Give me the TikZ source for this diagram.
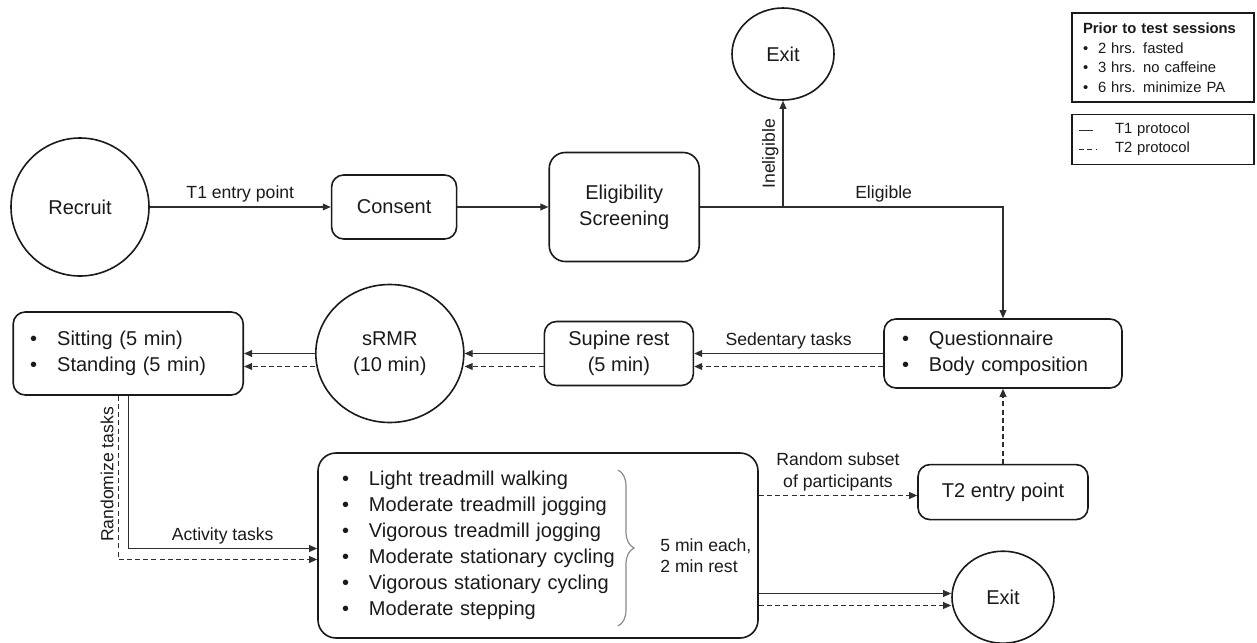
\documentclass[tikz,border=0pt]{standalone}
\usepackage{fontspec}
\setmainfont{Liberation Sans}
\usepackage{xcolor}
\definecolor{ink}{HTML}{1A1A1A}
\definecolor{wire}{HTML}{2E2E2E}
\definecolor{bracegrey}{HTML}{8A8A8A}
\usepackage{tikz}
\usetikzlibrary{positioning,arrows.meta,shapes.geometric,decorations.pathreplacing}
\newcommand{\mainsz}{\fontsize{10}{13}\selectfont}
\newcommand{\lblsz}{\fontsize{8.8}{11}\selectfont}
\newcommand{\keysz}{\fontsize{7.4}{9.75}\selectfont}
\newcommand{\bul}[1]{\makebox[13.5pt][l]{\textbullet}#1}
\newcommand{\keybul}[1]{\makebox[7.5pt][l]{\textbullet}#1}

\begin{document}
\begin{tikzpicture}[x=0.5pt,y=-0.5pt,
  box/.style={draw=ink,line width=0.8pt,rounded corners=6pt,align=center,font=\mainsz,text=ink,inner sep=0pt},
  lst/.style={box,align=left},
  rnd/.style={draw=ink,line width=0.8pt,ellipse,align=center,font=\mainsz,text=ink,inner sep=0pt},
  key/.style={draw=ink,line width=0.8pt,align=left,font=\keysz,text=ink,text width=80pt,inner xsep=5.5pt,inner ysep=0pt},
  lbl/.style={font=\lblsz,text=ink,inner sep=2pt},
  arr/.style={-{Triangle[length=4pt,width=3.4pt]},color=wire,line width=0.55pt},
  dsh/.style={dash pattern=on 2.5pt off 1.6pt},
  brc/.style={decorate,decoration={brace,amplitude=8pt},draw=bracegrey,line width=0.6pt}]
\fill[white] (0,0) rectangle (1257,642);
\useasboundingbox (0,0) rectangle (1257,642);
% top row
\node[rnd,minimum width=69pt,minimum height=69pt] (rec) at (80,207) {Recruit};
\node[box,minimum width=62.5pt,minimum height=32pt,right=90.5pt of rec] (cons) {Consent};
\node[box,minimum width=75pt,minimum height=54.5pt,rounded corners=8pt,right=45.5pt of cons] (elig) {Eligibility\\Screening};
\node[rnd,minimum width=51pt,minimum height=46pt] (exit1) at (783,54) {Exit};
% middle row
\node[lst,text width=101pt,inner xsep=9pt,minimum height=34.5pt] (quest) at (1003,353.5) {\bul{Questionnaire}\\\bul{Body composition}};
\node[box,minimum width=74.5pt,minimum height=32pt,left=94.5pt of quest] (sup) {Supine rest\\(5 min)};
\node[rnd,minimum width=74pt,minimum height=69pt,left=39.5pt of sup] (srmr) {sRMR\\(10 min)};
\node[lst,text width=98pt,inner xsep=8.5pt,minimum height=41.5pt,left=35.5pt of srmr] (sit) {\bul{Sitting (5 min)}\\\bul{Standing (5 min)}};
% bottom row
\node[lst,text width=196pt,inner xsep=12pt,minimum height=92.5pt,rounded corners=9pt] (act) at (538,545.5) {\bul{Light treadmill walking}\\\bul{Moderate treadmill jogging}\\\bul{Vigorous treadmill jogging}\\\bul{Moderate stationary cycling}\\\bul{Vigorous stationary cycling}\\\bul{Moderate stepping}};
\node[box,minimum width=85pt,minimum height=27.5pt,below=37.5pt of quest] (t2) {T2 entry point};
\node[rnd,minimum width=51pt,minimum height=46pt,below=15pt of t2] (exit2) {Exit};
\node[lbl,anchor=west,align=left,font=\fontsize{8.8}{10.5}\selectfont] (note) at (656,556) {5 min each,\\2 min rest};
\draw[brc] (618,470) -- (618,626);
% legend
\node[key,minimum height=44.5pt] (leg1) at (1163,57.5) {\textbf{Prior to test sessions}\\\keybul{2 hrs. fasted}\\\keybul{3 hrs. no caffeine}\\\keybul{6 hrs. minimize PA}};
\node[key,minimum height=25pt,below=5.5pt of leg1,font=\fontsize{7.4}{9.5}\selectfont] (leg2) {\hspace*{16pt}T1 protocol\\\hspace*{16pt}T2 protocol};
\draw[wire,line width=0.7pt] ([xshift=4pt,yshift=4.7pt]leg2.west) -- ++(7pt,0);
\draw[wire,line width=0.55pt,dsh] ([xshift=4pt,yshift=-4.8pt]leg2.west) -- ++(9pt,0);
% connectors
\draw[arr] (rec) -- (cons) node[midway,above,lbl] {T1 entry point};
\draw[arr] (cons) -- (elig);
\draw[arr] (elig.east) -| (quest.north) node[pos=0.303,above,lbl] {Eligible};
\draw[arr] (exit1.south |- elig.east) -- (exit1.south) node[midway,rotate=90,above,lbl] {Ineligible};
\draw[arr] (quest.west) -- (quest.west -| sup.east) node[midway,above,lbl] {Sedentary tasks};
\draw[arr,dsh] ([yshift=-6.5pt]quest.west) -- ([yshift=-6.5pt]quest.west -| sup.east);
\draw[arr] (sup.west) -- (sup.west -| srmr.east);
\draw[arr,dsh] ([yshift=-6.5pt]sup.west) -- ([yshift=-6.5pt]sup.west -| srmr.east);
\draw[arr] (srmr.west) -- (srmr.west -| sit.east);
\draw[arr,dsh] ([yshift=-6.5pt]srmr.west) -- ([yshift=-6.5pt]srmr.west -| sit.east);
\draw[arr] (sit.south) |- ([yshift=-1.5pt]act.west) node[pos=0.75,above,lbl] {Activity tasks};
\draw[arr,dsh] ([xshift=-5pt]sit.south) |- ([yshift=-7pt]act.west) node[pos=0.24,rotate=90,above,lbl] {Randomize tasks};
\draw[arr,dsh] ([yshift=25pt]act.east) -- ([yshift=25pt]act.east -| t2.west) node[midway,above,lbl,align=center,font=\fontsize{8.8}{11}\selectfont] {Random subset\\of participants};
\draw[arr] ([yshift=-24pt]act.east) -- ([yshift=-24pt]act.east -| exit2.west);
\draw[arr,dsh] ([yshift=-30pt]act.east) -- ([yshift=-30pt]act.east -| exit2.west);
\draw[arr,dsh] (t2) -- (quest);
\end{tikzpicture}
\end{document}
